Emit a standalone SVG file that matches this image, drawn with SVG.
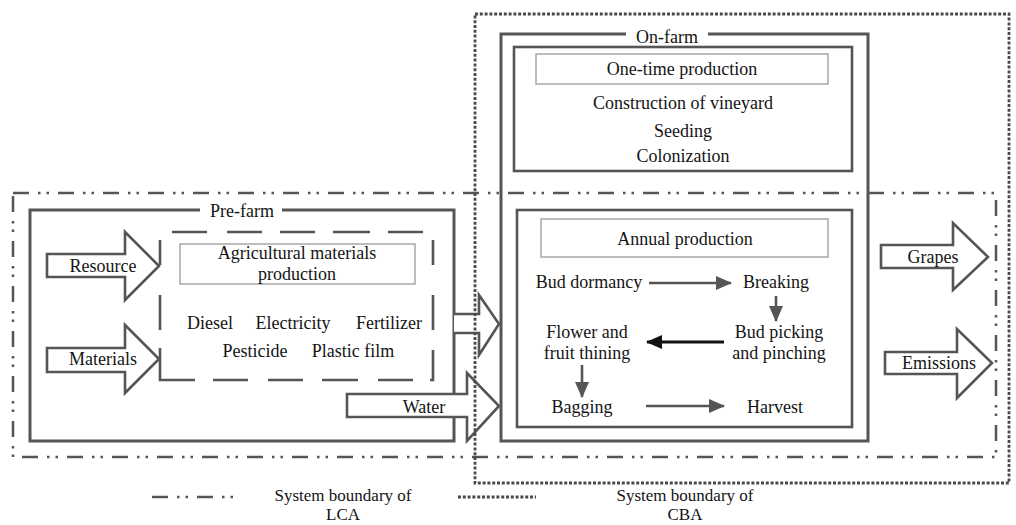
<svg xmlns="http://www.w3.org/2000/svg" width="1016" height="525" viewBox="0 0 1016 525">
<defs>
<style>
text{font-family:"Liberation Serif","Times New Roman",serif;font-size:18px;fill:#141414;text-anchor:middle}
.leg{font-size:17px}
.box{fill:none;stroke:#555;stroke-width:3}
.inner{fill:none;stroke:#555;stroke-width:2.6}
.label{fill:#fff;stroke:#a8a8a8;stroke-width:1.5}
.dash{fill:none;stroke:#555;stroke-width:2.6}
.blk{fill:#fff;stroke:#555;stroke-width:2.6;stroke-linejoin:miter}
.lca{fill:none;stroke:#555;stroke-width:2.5;stroke-dasharray:16 9 2.5 6 2.5 9}
.cba{fill:none;stroke:#4a4a4a;stroke-width:2.8;stroke-dasharray:3 1.8}
.flow{fill:none;stroke:#555;stroke-width:2.6}
.flowk{fill:none;stroke:#111;stroke-width:2.8}
</style>
<marker id="ah" markerUnits="userSpaceOnUse" markerWidth="16" markerHeight="14" refX="15" refY="7" orient="auto"><path d="M0,0 L16,7 L0,14 Z" fill="#555"/></marker>
<marker id="ahk" markerUnits="userSpaceOnUse" markerWidth="16" markerHeight="14" refX="15" refY="7" orient="auto"><path d="M0,0 L16,7 L0,14 Z" fill="#111"/></marker>
</defs>
<rect width="1016" height="525" fill="#fff"/>

<g id="pre-farm">
<path class="box" d="M200,210 H30 V441 H454 V210 H282"/>
<text x="242" y="217">Pre-farm</text>
</g>

<g id="agri-materials">
<path class="dash" d="M172,232H207M227,232H262M280,232H315M333,232H370M388,232H423M160,240V265M160,295V330M160,348V380H195M213,380H248M268,380H303M322,380H358M378,380H413M430,380H433V350M433,330V295M433,265V240"/>
<rect class="label" x="180" y="244" width="235" height="40"/>
<text x="297" y="259">Agricultural materials</text>
<text x="297" y="280">production</text>
<text x="210" y="329">Diesel</text>
<text x="293" y="329">Electricity</text>
<text x="389" y="329">Fertilizer</text>
<text x="255" y="357">Pesticide</text>
<text x="353" y="357">Plastic film</text>
</g>

<g id="resource">
<path class="blk" d="M47,254H125V232L159,266L125,300V277H47Z"/>
<text x="103" y="272">Resource</text>
</g>
<g id="materials">
<path class="blk" d="M47,348H125V325L159,359L125,393V372H47Z"/>
<text x="103" y="365">Materials</text>
</g>

<g id="on-farm">
<path class="box" d="M626,34H501V441H868V34H708"/>
<text x="667" y="43">On-farm</text>
</g>

<g id="one-time">
<rect class="inner" x="514" y="47" width="338" height="124"/>
<rect class="label" x="536" y="54" width="292" height="30"/>
<text x="682" y="75">One-time production</text>
<text x="683" y="109">Construction of vineyard</text>
<text x="683" y="137">Seeding</text>
<text x="683" y="162">Colonization</text>
</g>

<g id="annual">
<rect class="inner" x="517" y="210" width="335" height="217"/>
<rect class="label" x="541" y="219" width="287" height="38"/>
<text x="685" y="245">Annual production</text>
<text x="589" y="288">Bud dormancy</text>
<text x="776" y="288">Breaking</text>
<text x="779" y="338">Bud picking</text>
<text x="779" y="359">and pinching</text>
<text x="587" y="338">Flower and</text>
<text x="587" y="359">fruit thining</text>
<text x="582" y="413">Bagging</text>
<text x="775" y="413">Harvest</text>
</g>

<g id="to-on-farm">
<path class="blk" d="M454,314H479V295L499,324L479,355V333H454"/>
</g>
<g id="water">
<path class="blk" d="M347,394H467V373L499,406L467,441V417H347Z"/>
<text x="424" y="413">Water</text>
</g>

<g id="grapes">
<path class="blk" d="M881,245H953V223L988,257L953,290V268H881Z"/>
<text x="933" y="263">Grapes</text>
</g>
<g id="emissions">
<path class="blk" d="M885,352H957V329L992,363L957,398V374H885Z"/>
<text x="939" y="369">Emissions</text>
</g>

<g id="connectors">
<line class="flow" x1="649" y1="283" x2="731" y2="283" marker-end="url(#ah)"/>
<line class="flow" x1="776" y1="296" x2="776" y2="321" marker-end="url(#ah)"/>
<line class="flowk" x1="724" y1="342" x2="647" y2="342" marker-end="url(#ahk)"/>
<line class="flow" x1="582" y1="365" x2="582" y2="397" marker-end="url(#ah)"/>
<line class="flow" x1="646" y1="406" x2="724" y2="406" marker-end="url(#ah)"/>
</g>

<g id="boundaries">
<rect class="lca" x="13" y="193" width="983" height="264"/>
<rect class="cba" x="475" y="14" width="534" height="469"/>
</g>

<g id="legend">
<line class="lca" x1="152" y1="497" x2="240" y2="497"/>
<text class="leg" x="343" y="501">System boundary of</text>
<text class="leg" x="343" y="520">LCA</text>
<line class="cba" x1="458" y1="497" x2="536" y2="497"/>
<text class="leg" x="685" y="501">System boundary of</text>
<text class="leg" x="685" y="520">CBA</text>
</g>
</svg>
